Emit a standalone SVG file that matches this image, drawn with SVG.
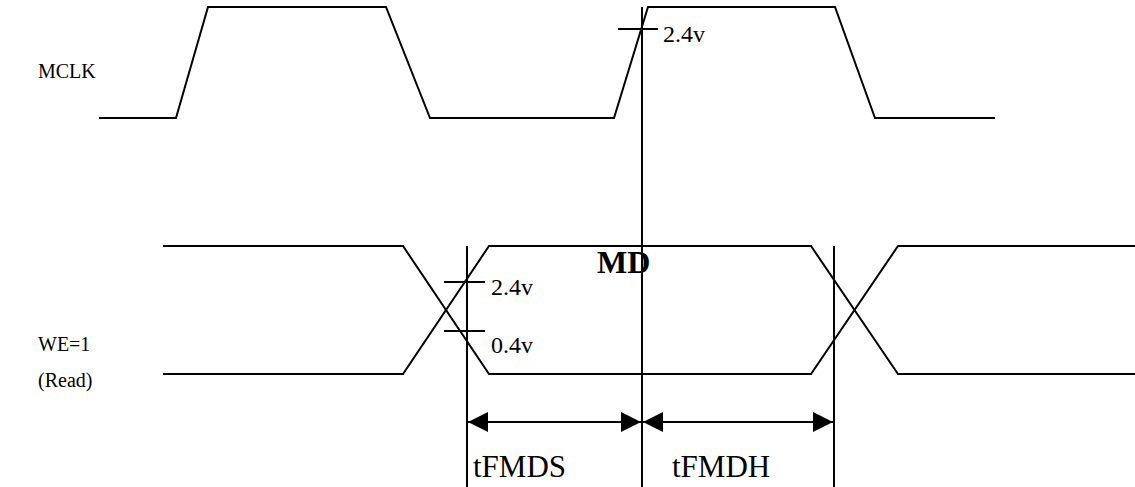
<svg xmlns="http://www.w3.org/2000/svg" width="1135" height="487" viewBox="0 0 1135 487">
<style>
.w{fill:none;stroke:#000;stroke-width:2;stroke-linejoin:miter}
.t{font-family:"Liberation Serif","Times New Roman",serif;fill:#000}
</style>
<defs>
<marker id="ah" viewBox="0 0 20 20" refX="20" refY="10" markerWidth="20" markerHeight="20" markerUnits="userSpaceOnUse" orient="auto-start-reverse">
<path d="M0,0 L20,10 L0,20 Z" fill="#000"/>
</marker>
</defs>
<rect width="1135" height="487" fill="#fff"/>
<g id="mclk">
<polyline class="w" points="99,118 176,118 208,7 386,7 430,118 614,118 648,7 835,7 875,118 995,118"/>
<text class="t" x="38" y="78" font-size="20">MCLK</text>
<line class="w" x1="618" y1="29" x2="658" y2="29"/>
<text class="t" x="663" y="42" font-size="24">2.4v</text>
</g>
<g id="md">
<polyline class="w" points="163,246 403,246 489,374 811,374 898,246 1135,246"/>
<polyline class="w" points="163,374 403,374 489,246 811,246 898,374 1135,374"/>
<text class="t" x="38" y="351" font-size="20">WE=1</text>
<text class="t" x="38" y="387" font-size="20">(Read)</text>
<line class="w" x1="444" y1="282" x2="485" y2="282"/>
<line class="w" x1="444" y1="331" x2="485" y2="331"/>
<text class="t" x="491" y="295" font-size="24">2.4v</text>
<text class="t" x="491" y="353" font-size="24">0.4v</text>
<text class="t" x="597" y="273" font-size="32" font-weight="bold">MD</text>
</g>
<g id="connectors">
<line class="w" x1="642" y1="7" x2="642" y2="487"/>
<line class="w" x1="467" y1="246" x2="467" y2="487"/>
<line class="w" x1="834" y1="246" x2="834" y2="487"/>
<line class="w" x1="468" y1="422" x2="641" y2="422" marker-start="url(#ah)" marker-end="url(#ah)"/>
<line class="w" x1="643" y1="422" x2="833" y2="422" marker-start="url(#ah)" marker-end="url(#ah)"/>
</g>
<g id="labels">
<text class="t" x="473" y="477" font-size="31">tFMDS</text>
<text class="t" x="672" y="477" font-size="31">tFMDH</text>
</g>
</svg>
